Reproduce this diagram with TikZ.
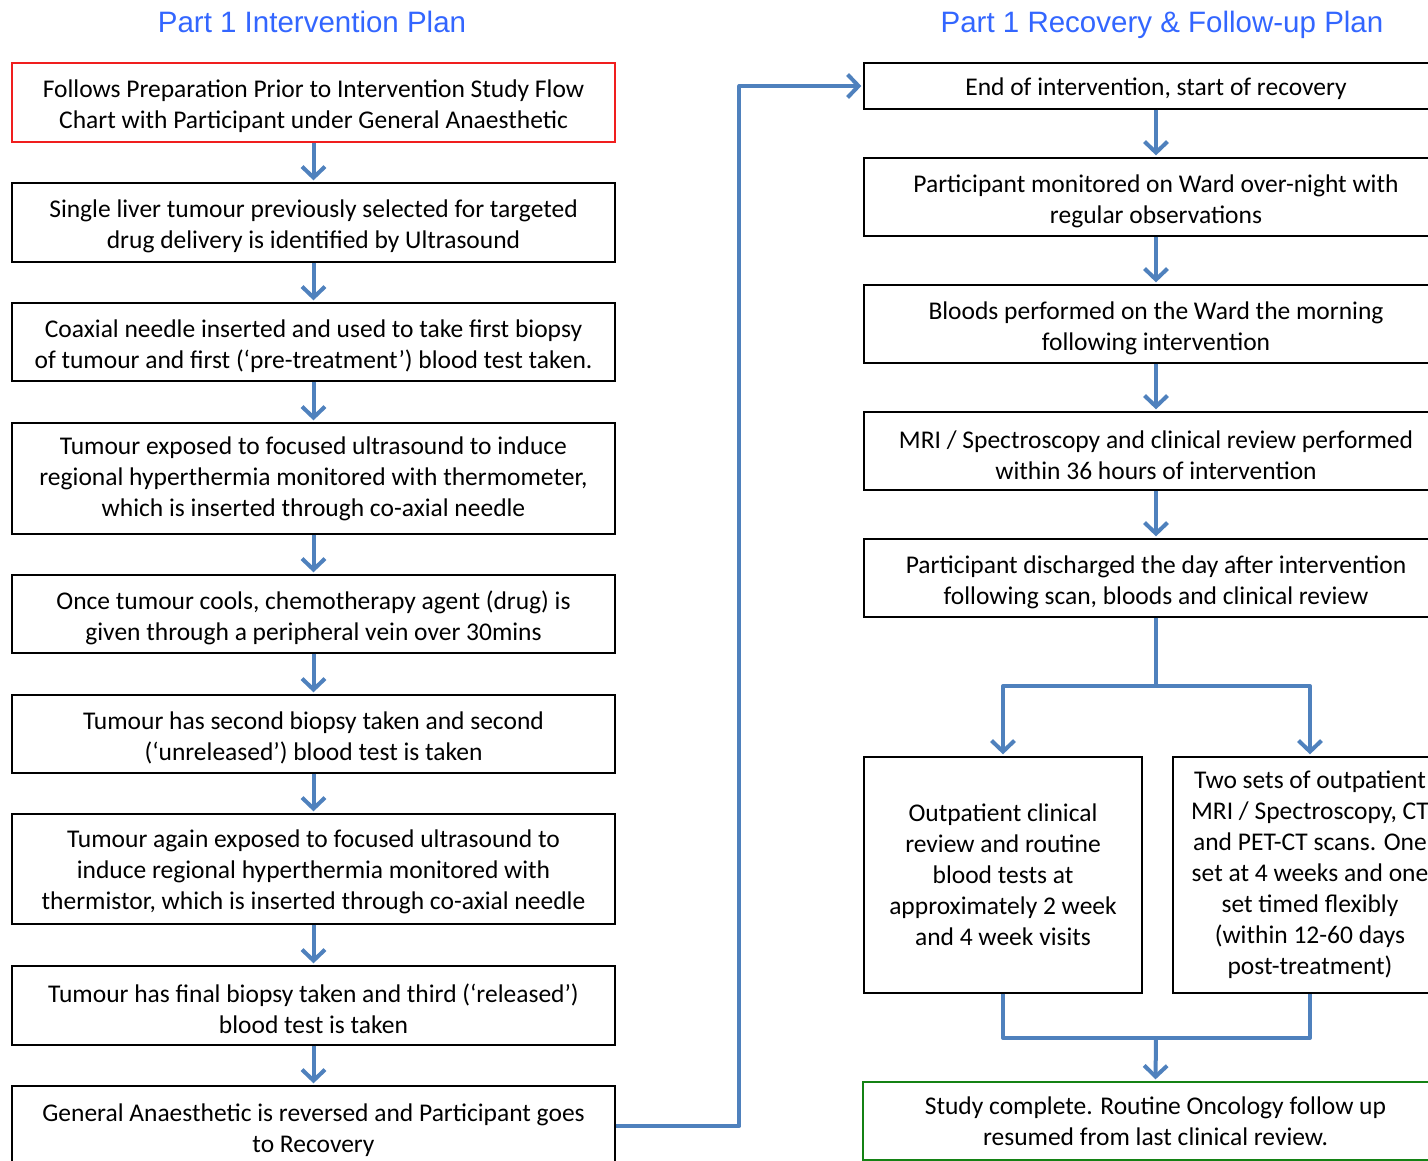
\documentclass[tikz,border=0pt]{standalone}
\usepackage{fontspec}
\setmainfont{Carlito}
\newfontfamily\titlefont{Liberation Sans}
\usetikzlibrary{arrows.meta}
\definecolor{arrowblue}{RGB}{79,129,189}
\definecolor{titleblue}{RGB}{51,102,255}
\definecolor{boxred}{RGB}{240,30,30}
\definecolor{boxgreen}{RGB}{20,130,20}
\newcommand\topstrut{\rule{0pt}{26pt}}
\begin{document}
\begin{tikzpicture}[x=1pt,y=-1pt,
  box/.style={draw=black, line width=1.3pt, fill=white, inner sep=0pt, align=center,
    font=\fontsize{25.5}{31}\selectfont},
  lbox/.style={box, minimum width=603pt},
  rbox/.style={box, minimum width=584pt},
  title/.style={font=\titlefont\fontsize{29.5}{32}\selectfont, text=titleblue, inner sep=0pt, anchor=base},
  conn/.style={draw=arrowblue, line width=4pt, line join=round},
  flow/.style={conn, -{Straight Barb[length=11pt,width=23pt]}, shorten >=2pt}
]
\useasboundingbox (0,0) rectangle (1428,1161);
\clip (0,0) rectangle (1428,1161);

\node[title] (t1) at (312,33) {Part 1 Intervention Plan};
\node[title] (t2) at (1162,33) {Part 1 Recovery \& Follow-up Plan};

% left column
\node[lbox, draw=boxred, minimum height=79pt] (L1) at (313.5,102.5) {\topstrut Follows Preparation Prior to Intervention Study Flow\\Chart with Participant under General Anaesthetic};
\node[lbox, minimum height=79pt] (L2) at (313.5,222.5) {\topstrut Single liver tumour previously selected for targeted\\drug delivery is identified by Ultrasound};
\node[lbox, minimum height=78pt] (L3) at (313.5,342) {\topstrut Coaxial needle inserted and used to take first biopsy\\of tumour and first (‘pre-treatment’) blood test taken.};
\node[lbox, minimum height=111pt] (L4) at (313.5,478.5) {Tumour exposed to focused ultrasound to induce\\regional hyperthermia monitored with thermometer,\\which is inserted through co-axial needle};
\node[lbox, minimum height=78pt] (L5) at (313.5,614) {\topstrut Once tumour cools, chemotherapy agent (drug) is\\given through a peripheral vein over 30mins};
\node[lbox, minimum height=78pt] (L6) at (313.5,734) {\topstrut Tumour has second biopsy taken and second\\(‘unreleased’) blood test is taken};
\node[lbox, minimum height=110pt] (L7) at (313.5,869) {\rule{0pt}{23pt}Tumour again exposed to focused ultrasound to\\induce regional hyperthermia monitored with\\thermistor, which is inserted through co-axial needle};
\node[lbox, minimum height=79pt] (L8) at (313.5,1005.5) {\topstrut Tumour has final biopsy taken and third (‘released’)\\blood test is taken};
\node[lbox, minimum height=80pt] (L9) at (313.5,1126) {\topstrut General Anaesthetic is reversed and Participant goes\\to Recovery};

% right column
\node[rbox, minimum height=46pt] (R1) at (1156,86) {\rule{0pt}{24pt}End of intervention, start of recovery};
\node[rbox, minimum height=78pt] (R2) at (1156,197) {\topstrut Participant monitored on Ward over-night with\\regular observations};
\node[rbox, minimum height=78pt] (R3) at (1156,324) {\topstrut Bloods performed on the Ward the morning\\following intervention};
\node[rbox, minimum height=78pt] (R4) at (1156,451) {\topstrut MRI / Spectroscopy and clinical review performed\\within 36 hours of intervention};
\node[rbox, minimum height=78pt] (R5) at (1156,578) {\topstrut Participant discharged the day after intervention\\following scan, bloods and clinical review};
\node[box, minimum width=278pt, minimum height=236pt] (R6a) at (1003,875) {Outpatient clinical\\review and routine\\blood tests at\\approximately 2 week\\and 4 week visits};
\node[box, minimum width=274pt, minimum height=236pt] (R6b) at (1310,875) {Two sets of outpatient\\MRI / Spectroscopy, CT\\and PET-CT scans. One\\set at 4 weeks and one\\set timed flexibly\\(within 12-60 days\\post-treatment)};
\node[rbox, draw=boxgreen, minimum width=585pt, minimum height=78pt] (R7) at (1155.5,1121) {Study complete. Routine Oncology follow up\\resumed from last clinical review.};

% connectors left
\draw[flow] (L1.south) -- (L2.north);
\draw[flow] (L2.south) -- (L3.north);
\draw[flow] (L3.south) -- (L4.north);
\draw[flow] (L4.south) -- (L5.north);
\draw[flow] (L5.south) -- (L6.north);
\draw[flow] (L6.south) -- (L7.north);
\draw[flow] (L7.south) -- (L8.north);
\draw[flow] (L8.south) -- (L9.north);

% cross connector
\draw[flow] (L9.east) -| ([xshift=-124pt]R1.west) -- (R1.west);

% connectors right
\draw[flow] (R1.south) -- (R2.north);
\draw[flow] (R2.south) -- (R3.north);
\draw[flow] (R3.south) -- (R4.north);
\draw[flow] (R4.south) -- (R5.north);

\coordinate (split) at (1156,686);
\draw[conn] (R5.south) -- (split);
\draw[flow] (split) -| (R6a.north);
\draw[flow] (split) -| (R6b.north);

\coordinate (merge) at (1156,1038);
\draw[conn] (R6a.south) -- (R6a.south |- merge) -- (R6b.south |- merge) -- (R6b.south);
\draw[flow] (merge) -- (R7.north);
\end{tikzpicture}
\end{document}
